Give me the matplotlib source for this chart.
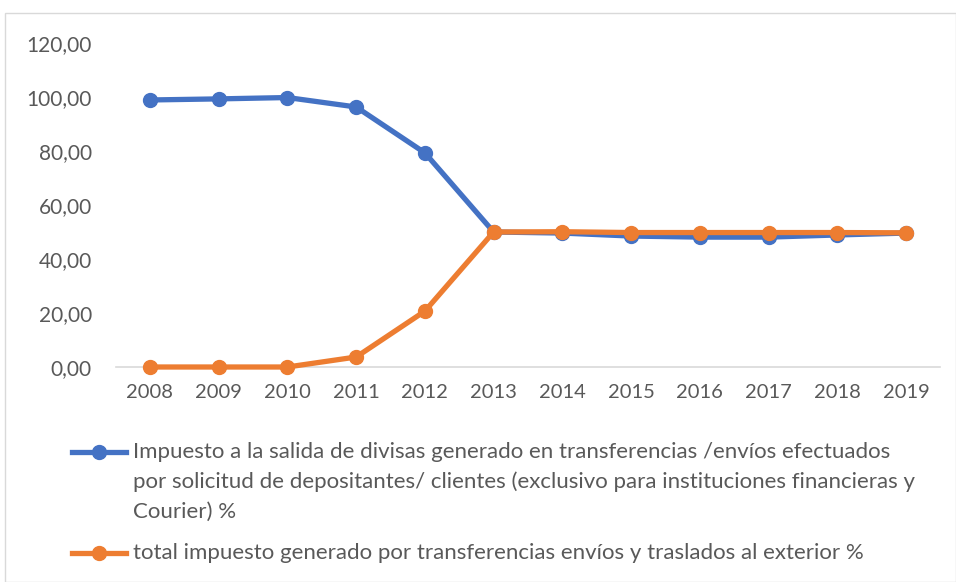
import matplotlib
matplotlib.use("Agg")
import matplotlib.pyplot as plt
from matplotlib.lines import Line2D
from matplotlib.patches import Rectangle

years = ["2008", "2009", "2010", "2011", "2012", "2013", "2014", "2015", "2016", "2017", "2018", "2019"]
impuesto_divisas = [98.9, 99.3, 99.8, 96.3, 79.3, 50.0, 49.6, 48.5, 48.1, 48.1, 48.9, 49.6]
total_impuesto = [0.0, 0.0, 0.0, 3.7, 20.7, 50.0, 50.1, 49.8, 49.8, 49.8, 49.8, 49.7]
yticks = [0, 20, 40, 60, 80, 100, 120]
label1 = ("Impuesto a la salida de divisas generado en transferencias /envíos efectuados\n"
          "por solicitud de depositantes/ clientes (exclusivo para instituciones financieras y\n"
          "Courier) %")
label2 = "total impuesto generado por transferencias envíos y traslados al exterior %"

W, H = 956, 582
plt.rcParams['font.family'] = ['Lato', 'DejaVu Sans']
fig = plt.figure(figsize=(W / 100, H / 100), dpi=100)

# outer chart frame
fig.patches.append(Rectangle((5 / W, 0), (W - 5) / W, (H - 13) / H, transform=fig.transFigure,
                             fill=False, edgecolor="#d9d9d9", linewidth=1))

left, right, top, bottom = 115.6, 940.4, 43, 367
ax = fig.add_axes([left / W, 1 - bottom / H, (right - left) / W, (bottom - top) / H])
x = list(range(len(years)))
blue = "#4472C4"
orange = "#ED7D31"
ax.plot(x, impuesto_divisas, color=blue, lw=3.8, marker="o", ms=10, zorder=3)
ax.plot(x, total_impuesto, color=orange, lw=3.8, marker="o", ms=10, zorder=4)
ax.set_xlim(-0.5, len(years) - 0.5)
ax.set_ylim(0, 120)
ax.set_yticks(yticks)
ax.set_yticklabels([f"{v:.2f}".replace(".", ",") for v in yticks])
ax.set_xticks(x)
ax.set_xticklabels(years)
for s in ["top", "right", "left"]:
    ax.spines[s].set_visible(False)
ax.spines["bottom"].set_color("#d9d9d9")
ax.spines["bottom"].set_linewidth(1.2)
ax.spines["bottom"].set_zorder(1)
ax.tick_params(axis="y", length=0, labelsize=15, colors="#595959", pad=17)
ax.tick_params(axis="x", length=0, labelsize=14.5, colors="#595959", pad=12)
for l in ax.lines:
    l.set_clip_on(False)

# manual legend
def leg(ypix, color):
    fig.add_artist(Line2D([72 / W, 126 / W], [1 - ypix / H, 1 - ypix / H], transform=fig.transFigure,
                          color=color, lw=3.8))
    fig.add_artist(Line2D([99 / W], [1 - ypix / H], transform=fig.transFigure,
                          color=color, marker="o", ms=10))

leg(452, blue)
for i, line in enumerate(label1.split("\n")):
    fig.text(133 / W, 1 - (452 + 30 * i) / H, line, ha="left", va="center", fontsize=16,
             color="#595959")
leg(553, orange)
fig.text(133 / W, 1 - 553 / H, label2, ha="left", va="center", fontsize=16, color="#595959")

fig.savefig("out.png", dpi=100)
